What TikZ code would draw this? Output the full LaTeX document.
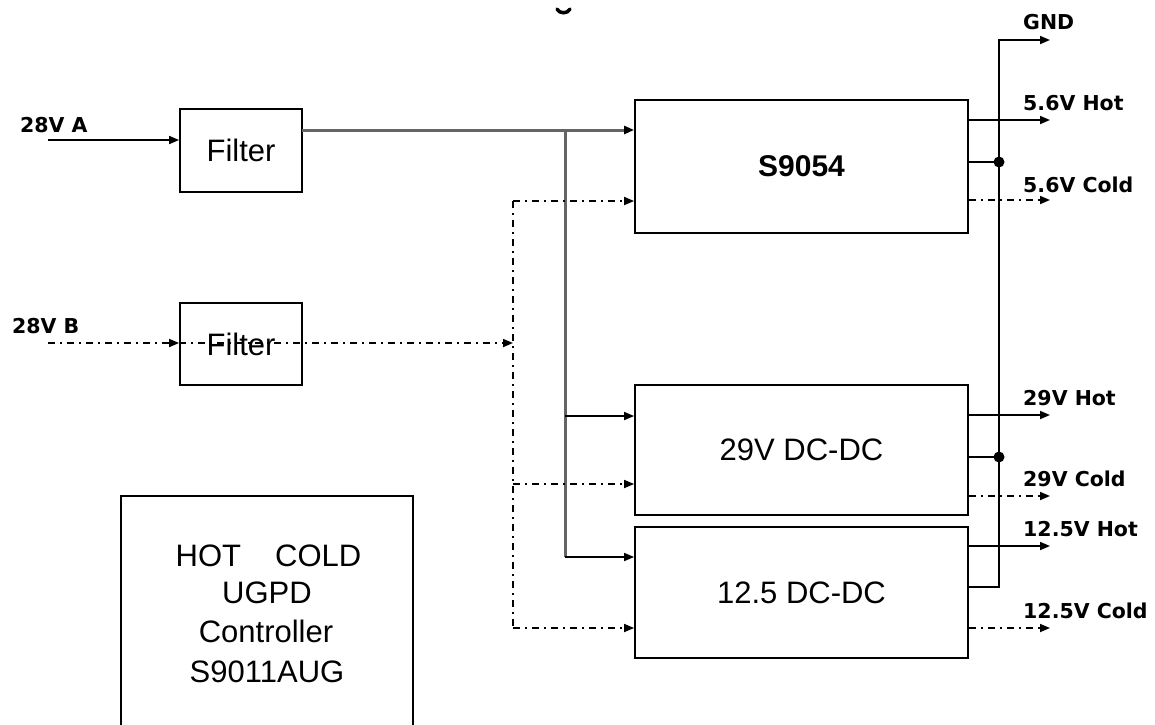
\documentclass[tikz,border=0pt]{standalone}
\usepackage{fontspec}
\setmainfont{Liberation Sans}
\newfontfamily\lblfont{DejaVu Sans}
\usetikzlibrary{arrows.meta}
\definecolor{trunkgray}{RGB}{100,100,100}
\begin{document}
\begin{tikzpicture}[x=1pt,y=-1pt,
  box/.style={draw, line width=1.8pt, inner sep=0pt, font=\fontsize{31}{38}\selectfont},
  boldbox/.style={box, font=\fontsize{30}{36}\selectfont\bfseries},
  wire/.style={line width=1.7pt},
  sig/.style={wire, -{Triangle[length=10pt,width=8pt]}},
  ddot/.style={dash pattern=on 7pt off 5pt on 2pt off 5pt},
  trunk/.style={draw=trunkgray, line width=3pt},
  lbl/.style={font=\lblfont\bfseries\fontsize{20.5}{24}\selectfont, anchor=base west, inner sep=0pt},
  ctxt/.style={font=\fontsize{31}{38}\selectfont, anchor=base, inner sep=0pt}
]
\useasboundingbox (0,0) rectangle (1155,724);

% stray mark at top
\draw[line width=3.5pt, line cap=round] (557,9) .. controls (559,14) and (568,14) .. (570,9);

% boxes
\node[box, minimum width=122pt, minimum height=83pt] (fa) at (241,150.5) {Filter};
\node[box, minimum width=122pt, minimum height=82pt] (fb) at (241,344) {Filter};
\node[boldbox, minimum width=333pt, minimum height=133pt] (s9054) at (801.5,166.5) {S9054};
\node[box, minimum width=333pt, minimum height=130pt] (dc29) at (801.5,450) {29V DC-DC};
\node[box, minimum width=333pt, minimum height=131pt] (dc12) at (801.5,592.5) {12.5 DC-DC};
\node[box, minimum width=292pt, minimum height=262pt, anchor=north west] (ctrl) at (120,495) {};

% controller text
\node[ctxt] (c1) at (268.5,566) {HOT\hspace{34pt}COLD};
\node[ctxt] (c2) at (267,603) {UGPD};
\node[ctxt] (c3) at (266,642) {Controller};
\node[ctxt] (c4) at (267,682) {S9011AUG};

% input labels
\node[lbl] (inA) at (20,132) {28V A};
\node[lbl] (inB) at (12,333) {28V B};

% output labels
\node[lbl] (lgnd) at (1023,29) {GND};
\node[lbl] (l56h) at (1023,110) {5.6V Hot};
\node[lbl] (l56c) at (1023,192) {5.6V Cold};
\node[lbl] (l29h) at (1023,405) {29V Hot};
\node[lbl] (l29c) at (1023,486) {29V Cold};
\node[lbl] (l12h) at (1023,536) {12.5V Hot};
\node[lbl] (l12c) at (1023,618) {12.5V Cold};

% coordinates
\coordinate (a0) at (48,140);
\coordinate (b0) at (48,343);
\coordinate (faout) at (302,130);
\coordinate (jA) at (565,130);
\coordinate (j29) at (565,416);
\coordinate (j12) at (565,557);
\coordinate (dTop) at (513,201);
\coordinate (dB) at (513,343);
\coordinate (d29) at (513,484);
\coordinate (d12) at (513,628);
\coordinate (gTop) at (999,40);
\coordinate (gBot) at (999,587);
\coordinate (dot56) at (999,162);
\coordinate (dot29) at (999,457);
\coordinate (oGND) at (1050,40);
\coordinate (o56h) at (1050,120);
\coordinate (o56c) at (1050,200);
\coordinate (o29h) at (1050,415);
\coordinate (o29c) at (1050,496);
\coordinate (o12h) at (1050,546);
\coordinate (o12c) at (1050,628);

% input A path
\draw[sig] (a0) -- (fa.west |- a0);
\draw[trunk, -{Triangle[length=10pt,width=8pt,color=black]}] (faout) -- (s9054.west |- jA);
\draw[trunk] (jA) -- (j12);
\draw[sig] (j29) -- (dc29.west |- j29);
\draw[sig] (j12) -- (dc12.west |- j12);

% input B path (dash-dot)
\draw[sig, ddot] (b0) -- (fb.west |- b0);
\draw[sig, ddot] (fb.west |- dB) -- (dB);
\draw[wire, ddot] (dTop) -- (d12);
\draw[sig, ddot] (dTop) -- (s9054.west |- dTop);
\draw[sig, ddot] (d29) -- (dc29.west |- d29);
\draw[sig, ddot] (d12) -- (dc12.west |- d12);

% outputs
\draw[sig] (dc12.east |- gBot) -- (gBot) -- (gTop) -- (oGND);
\draw[sig] (s9054.east |- o56h) -- (o56h);
\draw[wire] (s9054.east |- dot56) -- (dot56);
\draw[sig, ddot] (s9054.east |- o56c) -- (o56c);
\draw[sig] (dc29.east |- o29h) -- (o29h);
\draw[wire] (dc29.east |- dot29) -- (dot29);
\draw[sig, ddot] (dc29.east |- o29c) -- (o29c);
\draw[sig] (dc12.east |- o12h) -- (o12h);
\draw[sig, ddot] (dc12.east |- o12c) -- (o12c);
\fill (dot56) circle (5.5pt);
\fill (dot29) circle (5.5pt);
\end{tikzpicture}
\end{document}
